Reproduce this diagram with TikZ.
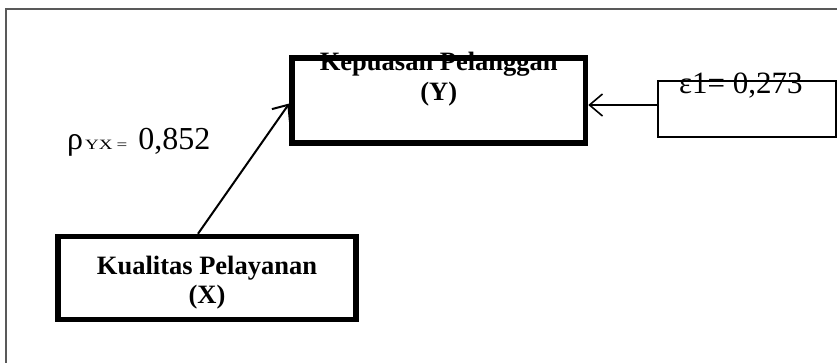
\documentclass[tikz,border=0pt]{standalone}
\usepackage{fontspec}
\setmainfont{Liberation Serif}
\usetikzlibrary{arrows.meta}
\tikzset{
  frameline/.style={draw=black!65, line width=1.2pt},
  heavybox/.style={draw, line width=5.5pt, rectangle, inner sep=0pt},
  lightbox/.style={draw, line width=1.2pt, rectangle, inner sep=0pt},
  boxtext/.style={anchor=base, inner sep=0pt, font=\fontsize{26.5}{30}\selectfont\bfseries},
  bigtext/.style={anchor=base west, inner sep=0pt, font=\fontsize{31}{32}\selectfont},
  conn/.style={-{Straight Barb[length=13pt,width=22pt]}}
}
\begin{document}
\begin{tikzpicture}[x=1pt,y=-1pt]
\useasboundingbox (0,0) rectangle (837,362);
\draw[frameline] (6,380) -- (6,9) -- (850,9);
% boxes
\node[heavybox, minimum width=298pt, minimum height=83pt] (X) at (207,278) {};
\node[heavybox, minimum width=293.5pt, minimum height=85pt] (Y) at (438.75,100.5) {};
\node[lightbox, minimum width=178pt, minimum height=56pt] (E) at (747,109) {};
% texts
\node[boxtext] (Yt1) at (438.75,70) {Kepuasan Pelanggan};
\node[boxtext] (Yt2) at (438.75,100) {(Y)};
\node[boxtext] (Xt1) at (207,274) {Kualitas Pelayanan};
\node[boxtext] (Xt2) at (207,303) {(X)};
\node[bigtext] (Et) at (679,93) {ε1= 0,273};
\node[anchor=base west, inner sep=0pt] (rho) at (67,149)
  {\fontsize{32}{32}\selectfont ρ\hspace{2pt}{\fontsize{19}{19}\selectfont\scalebox{1}[0.75]{YX\hspace{4pt}=}}\hspace{3pt} 0,852};
% connectors
\draw[conn, line width=2pt] ([xshift=-9pt]X.north) -- ([yshift=-3pt]Y.west);
\draw[conn, line width=1.6pt] ([yshift=4pt]E.west) -- ([yshift=4pt]E.west -| Y.east);
\end{tikzpicture}
\end{document}
